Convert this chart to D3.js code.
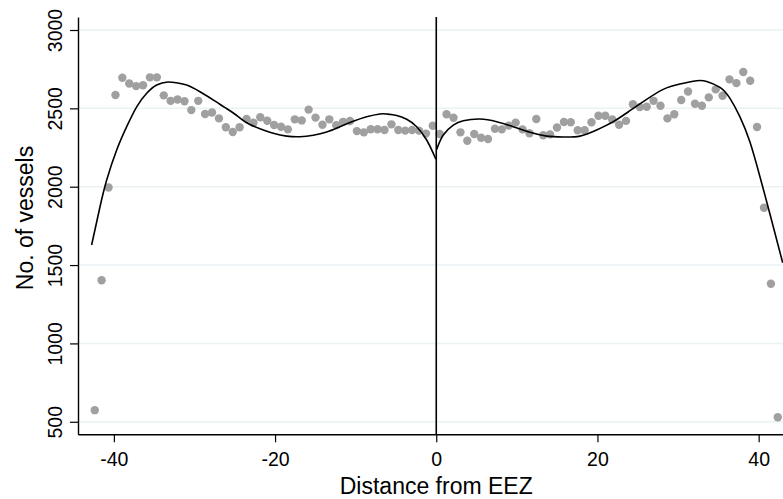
<!DOCTYPE html>
<html>
<head>
<meta charset="utf-8">
<script src="https://cdn.jsdelivr.net/npm/d3@7"></script>
<style>
  html, body { margin: 0; padding: 0; background: #ffffff; }
  svg { display: block; font-family: "Liberation Sans", Arial, Helvetica, sans-serif; }
</style>
</head>
<body>
<svg id="chart" width="783" height="499"></svg>
<script>
// ---- data ----
const leftX = [-42.37,-41.52,-40.66,-39.80,-38.95,-38.09,-37.24,-36.38,-35.52,-34.67,
  -33.81,-32.96,-32.10,-31.24,-30.39,-29.53,-28.68,-27.82,-26.96,-26.11,
  -25.25,-24.40,-23.54,-22.68,-21.83,-20.97,-20.12,-19.26,-18.41,-17.55,
  -16.69,-15.84,-14.98,-14.12,-13.27,-12.41,-11.56,-10.70,-9.85,-8.99,
  -8.13,-7.28,-6.42,-5.56,-4.71,-3.85,-3.00,-2.14,-1.28,-0.43];
const leftVessels = [574,1403,1995,2585,2695,2659,2642,2647,2698,2698,
  2583,2548,2557,2545,2489,2548,2464,2474,2436,2379,
  2349,2379,2432,2408,2443,2421,2394,2383,2366,2430,
  2423,2492,2441,2395,2430,2393,2414,2419,2355,2347,
  2367,2367,2362,2398,2362,2358,2362,2358,2339,2389];
const rightX = [0.43,1.28,2.14,3.00,3.85,4.71,5.56,6.42,7.28,8.13,
  8.99,9.85,10.70,11.56,12.41,13.27,14.12,14.98,15.84,16.69,
  17.55,18.41,19.26,20.12,20.97,21.83,22.68,23.54,24.40,25.25,
  26.11,26.96,27.82,28.68,29.53,30.39,31.24,32.10,32.96,33.81,
  34.67,35.52,36.38,37.24,38.09,38.95,39.80,40.66,41.52,42.37];
const rightVessels = [2336,2462,2440,2347,2293,2336,2312,2304,2370,2366,
  2390,2409,2366,2341,2432,2328,2334,2378,2413,2411,
  2360,2360,2411,2453,2453,2429,2395,2420,2526,2508,
  2510,2548,2517,2436,2462,2553,2608,2529,2517,2570,
  2621,2580,2685,2661,2732,2676,2381,1866,1381,529];

// fitted curves
const fitLeftX = [-42.76,-41.72,-40.89,-39.65,-38.41,-37.17,-35.93,-34.69,-33.29,-32.26,
  -30.97,-29.32,-27.49,-26.25,-25.01,-23.52,-21.87,-20.22,-18.56,-16.91,
  -15.26,-13.60,-11.95,-10.30,-8.64,-6.99,-6.15,-4.91,-3.67,-2.43,-1.19,-0.37,-0.05];
const fitLeftY = [1628,1872,2043,2234,2383,2510,2596,2649,2668,2663,
  2649,2606,2548,2506,2464,2408,2370,2341,2323,2319,
  2328,2349,2383,2417,2446,2464,2464,2455,2430,2383,2298,2213,2175];
const fitRightX = [0.05,0.87,2.11,3.35,5.42,7.49,9.55,11.63,13.70,15.76,17.82,19.90,
  21.96,24.03,26.10,28.16,30.23,32.31,33.55,35.20,36.44,37.68,38.92,40.16,41.40,42.98];
const fitRightY = [2238,2330,2393,2421,2432,2415,2383,2347,2323,2317,2323,2362,
  2415,2485,2557,2621,2655,2676,2672,2634,2564,2446,2285,2064,1826,1515];

const yTicks = [500,1000,1500,2000,2500,3000];
const xTicks = [-40,-20,0,20,40];
const xTitle = "Distance from EEZ";
const yTitle = "No. of vessels";

// ---- layout ----
const svg = d3.select("#chart");
const pLeft = 78, pRight = 783, pTop = 17, pBottom = 434.3;
const x = d3.scaleLinear().domain([-44.45, 43.02]).range([pLeft, pRight]);
const y = d3.scaleLinear().domain([420, 3083]).range([pBottom, pTop]);
const fontSize = 19.5;
const titleSize = 23;

// gridlines
svg.append("g").selectAll("line").data(yTicks).join("line")
  .attr("x1", pLeft).attr("x2", pRight)
  .attr("y1", d => y(d)).attr("y2", d => y(d))
  .attr("stroke", "#eaf2f3").attr("stroke-width", 1.5);

// points
const pts = leftX.map((d,i)=>({x:d, v:leftVessels[i]}))
  .concat(rightX.map((d,i)=>({x:d, v:rightVessels[i]})));
svg.append("g").selectAll("circle").data(pts).join("circle")
  .attr("cx", d => x(d.x)).attr("cy", d => y(d.v)).attr("r", 4.2)
  .attr("fill", "#a0a0a0");

// fitted lines
const line = d3.line().x(d => x(d[0])).y(d => y(d[1])).curve(d3.curveNatural);
svg.append("path").datum(fitLeftX.map((d,i)=>[d, fitLeftY[i]]))
  .attr("d", line).attr("fill","none").attr("stroke","#000").attr("stroke-width",1.6);
svg.append("path").datum(fitRightX.map((d,i)=>[d, fitRightY[i]]))
  .attr("d", line).attr("fill","none").attr("stroke","#000").attr("stroke-width",1.6);

// vertical line at 0
svg.append("line").attr("x1", x(0)).attr("x2", x(0)).attr("y1", pTop).attr("y2", pBottom)
  .attr("stroke","#000").attr("stroke-width",1.6);

// axes
const yAxis = svg.append("g").attr("transform", `translate(${pLeft},0)`)
  .call(d3.axisLeft(y).tickValues(yTicks).tickSize(8).tickSizeOuter(0).tickFormat(d3.format("d")));
yAxis.select(".domain").attr("stroke","#000").attr("stroke-width",1.4);
yAxis.selectAll(".tick line").attr("stroke","#000").attr("stroke-width",1.2);
yAxis.selectAll("text")
  .attr("x", null).attr("dy", null)
  .attr("text-anchor","middle")
  .attr("transform","translate(-16,0) rotate(-90)")
  .attr("font-size", fontSize).attr("fill","#000")
  .style("font-family", '"Liberation Sans", Arial, sans-serif');

const xAxis = svg.append("g").attr("transform", `translate(0,${pBottom})`)
  .call(d3.axisBottom(x).tickValues(xTicks).tickSize(8).tickPadding(10).tickSizeOuter(0).tickFormat(d3.format("d")));
xAxis.select(".domain").attr("stroke","#000").attr("stroke-width",1.4);
xAxis.selectAll(".tick line").attr("stroke","#000").attr("stroke-width",1.2);
xAxis.selectAll("text").attr("font-size", fontSize).attr("fill","#000")
  .text(d => d < 0 ? "-" + Math.abs(d) : d)
  .style("font-family", '"Liberation Sans", Arial, sans-serif');

// titles
svg.append("text").attr("x", x(0)).attr("y", 494)
  .attr("text-anchor","middle").attr("font-size", titleSize).attr("fill","#000")
  .text(xTitle);
svg.append("text").attr("transform", `translate(33,218) rotate(-90)`)
  .attr("text-anchor","middle").attr("font-size", titleSize).attr("fill","#000")
  .text(yTitle);
</script>
</body>
</html>
